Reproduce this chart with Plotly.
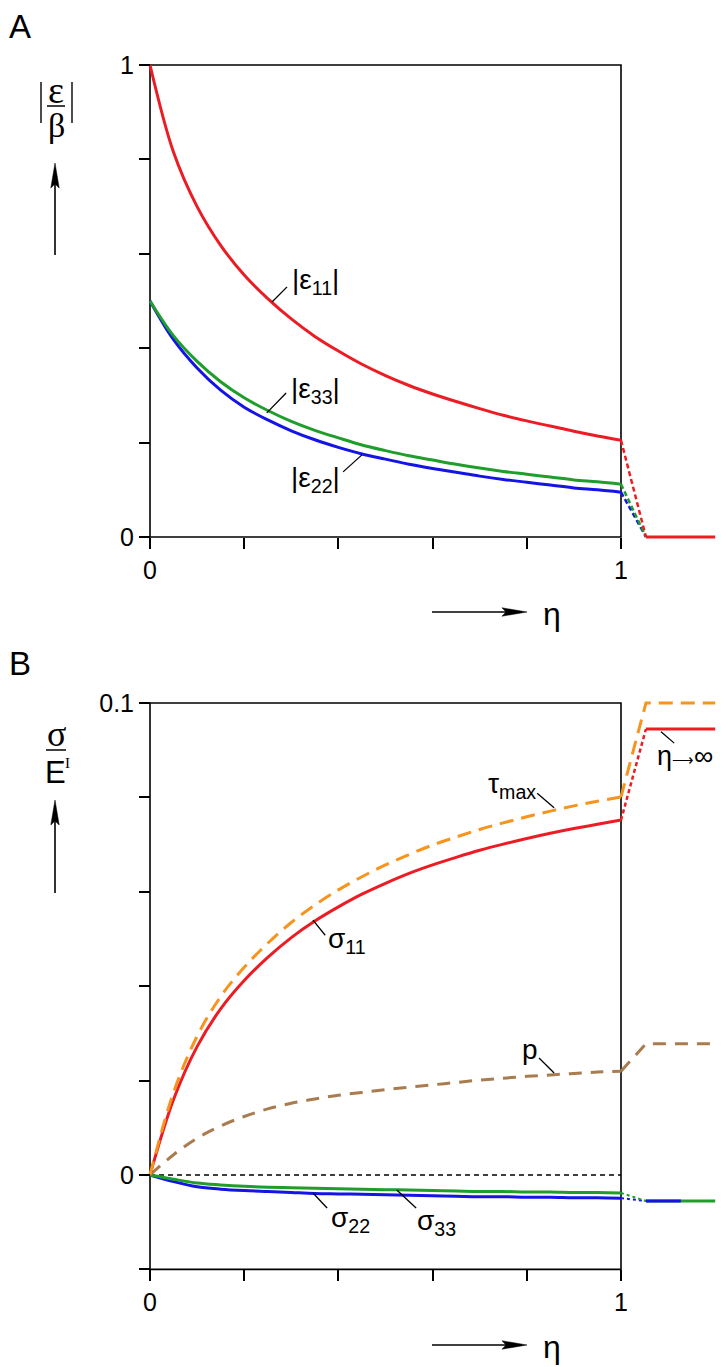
import plotly.graph_objects as go

# ---------------- data ----------------
# Panel A : strains |eps/beta| vs eta
eta_a = [0, 0.05, 0.1, 0.15, 0.2, 0.25, 0.3, 0.35, 0.4, 0.45, 0.5,
         0.55, 0.6, 0.65, 0.7, 0.75, 0.8, 0.85, 0.9, 0.95, 1.0]
eps11 = [1.0, 0.815, 0.700, 0.618, 0.555, 0.505, 0.462, 0.425, 0.394, 0.366, 0.342,
         0.321, 0.303, 0.287, 0.272, 0.258, 0.246, 0.235, 0.224, 0.214, 0.205]
eps33 = [0.5, 0.426, 0.372, 0.329, 0.295, 0.268, 0.245, 0.226, 0.210, 0.195, 0.183,
         0.172, 0.163, 0.154, 0.146, 0.139, 0.133, 0.127, 0.121, 0.117, 0.112]
eps22 = [0.5, 0.418, 0.358, 0.311, 0.275, 0.248, 0.225, 0.206, 0.190, 0.176, 0.165,
         0.154, 0.145, 0.137, 0.129, 0.122, 0.116, 0.110, 0.104, 0.100, 0.095]

# jump from eta = 1 to the eta -> infinity limit
eta_jump = [1.0, 1.053]
eta_inf = [1.053, 1.2]
eta_inf_half = [1.053, 1.127]
eps_limit = 0.0

# Panel B : stresses sigma/E^I vs eta
eta_b = [0, 0.05, 0.1, 0.15, 0.2, 0.25, 0.3, 0.35, 0.4, 0.45, 0.5,
         0.55, 0.6, 0.65, 0.7, 0.75, 0.8, 0.85, 0.9, 0.95, 1.0]
sig11 = [0, 0.0160, 0.0272, 0.0352, 0.0412, 0.0461, 0.0503, 0.0538, 0.0568, 0.0595, 0.0618,
         0.0639, 0.0657, 0.0673, 0.0688, 0.0701, 0.0713, 0.0724, 0.0734, 0.0743, 0.0752]
tau_max = [0, 0.0175, 0.0294, 0.0378, 0.0440, 0.0491, 0.0535, 0.0572, 0.0604, 0.0632, 0.0657,
           0.0679, 0.0699, 0.0716, 0.0732, 0.0746, 0.0759, 0.0771, 0.0782, 0.0792, 0.0801]
p_vals = [0, 0.0043, 0.0078, 0.0104, 0.0124, 0.0140, 0.0152, 0.0161, 0.0169, 0.0175, 0.0181,
          0.0186, 0.0191, 0.0196, 0.0201, 0.0205, 0.0209, 0.0212, 0.0215, 0.0218, 0.0220]
sig22 = [0, -0.0014, -0.0025, -0.0030, -0.0033, -0.0035, -0.0037, -0.0039, -0.0040, -0.0041, -0.0042,
         -0.0043, -0.0044, -0.0045, -0.0046, -0.0046, -0.0047, -0.0047, -0.0048, -0.0048, -0.0049]
sig33 = [0, -0.0009, -0.0017, -0.0021, -0.0024, -0.0026, -0.0027, -0.0028, -0.0029, -0.0030, -0.0031,
         -0.0032, -0.0033, -0.0034, -0.0035, -0.0035, -0.0036, -0.0036, -0.0037, -0.0037, -0.0038]

sig11_inf = 0.0945
tau_inf = 0.1
p_inf = 0.0278
sig22_inf = -0.0055
sig33_inf = -0.0055

# tick values / labels
xtick_vals = [0, 0.2, 0.4, 0.6, 0.8, 1.0]
xtick_text = ["0", "", "", "", "", "1"]
ytick_a_vals = [0, 0.2, 0.4, 0.6, 0.8, 1.0]
ytick_a_text = ["0", "", "", "", "", "1"]
ytick_b_vals = [-0.02, 0, 0.02, 0.04, 0.06, 0.08, 0.1]
ytick_b_text = ["", "0", "", "", "", "", "0.1"]

# ---------------- styling ----------------
RED = "#ec1c24"
GREEN = "#1f9e2c"
BLUE = "#1414e6"
ORANGE = "#f7941d"
BROWN = "#a97c50"
LW = 3
SANS = "Liberation Sans, Arial, sans-serif"
SERIF = "Liberation Serif, Times New Roman, serif"

W, H = 728, 1367


def PX(x):
    return x / W


def PY(y):
    return 1 - y / H


# pixel geometry of the plot frames
X0, XSCALE = 150, 471.0
XR = [-0.03, 1.22]
A_Y0, A_SCALE = 537, 472.0
A_R = [-0.04, 1.04]
B_Y0, B_SCALE = 1175, 4720.0
B_R = [-0.024, 0.104]

xdom = [PX(X0 + XR[0] * XSCALE), PX(X0 + XR[1] * XSCALE)]
ydom_a = [PY(A_Y0 - A_R[0] * A_SCALE), PY(A_Y0 - A_R[1] * A_SCALE)]
ydom_b = [PY(B_Y0 - B_R[0] * B_SCALE), PY(B_Y0 - B_R[1] * B_SCALE)]

fig = go.Figure()


def line(x, y, color, xa, ya, dash="solid", width=LW, spline=True):
    fig.add_trace(go.Scatter(
        x=x, y=y, mode="lines", xaxis=xa, yaxis=ya, showlegend=False, hoverinfo="skip",
        line=dict(color=color, width=width, dash=dash,
                  shape="spline" if spline else "linear", smoothing=1.0 if spline else 0)))


# ---- Panel A traces ----
for vals, col in [(eps22, BLUE), (eps33, GREEN), (eps11, RED)]:
    line(eta_jump, [vals[-1], eps_limit], col, "x", "y", dash="5px,3px", width=2.5, spline=False)
line(eta_a, eps22, BLUE, "x", "y")
line(eta_a, eps33, GREEN, "x", "y")
line(eta_a, eps11, RED, "x", "y")
line(eta_inf, [eps_limit, eps_limit], RED, "x", "y", spline=False)

# ---- Panel B traces ----
line(eta_b, p_vals, BROWN, "x2", "y2", dash="13px,9px")
line(eta_jump + [eta_inf[1]], [p_vals[-1], p_inf, p_inf], BROWN, "x2", "y2", dash="13px,9px", spline=False)
line(eta_jump, [sig22[-1], sig22_inf], BLUE, "x2", "y2", dash="3px,3px", width=2, spline=False)
line(eta_jump, [sig33[-1], sig33_inf], GREEN, "x2", "y2", dash="3px,3px", width=2, spline=False)
line(eta_b, sig22, BLUE, "x2", "y2")
line(eta_b, sig33, GREEN, "x2", "y2")
line(eta_inf, [sig33_inf, sig33_inf], GREEN, "x2", "y2", spline=False)
line(eta_inf_half, [sig22_inf, sig22_inf], BLUE, "x2", "y2", spline=False)
line(eta_b, sig11, RED, "x2", "y2")
line(eta_jump, [sig11[-1], sig11_inf], RED, "x2", "y2", dash="4px,3px", width=2.5, spline=False)
line(eta_inf, [sig11_inf, sig11_inf], RED, "x2", "y2", spline=False)
line(eta_b, tau_max, ORANGE, "x2", "y2", dash="14px,8px")
line(eta_jump + [eta_inf[1]], [tau_max[-1], tau_inf, tau_inf], ORANGE, "x2", "y2", dash="14px,8px", spline=False)

# ---------------- axes ----------------
tick_common = dict(ticks="outside", ticklen=11, tickwidth=1.6, tickcolor="black",
                   showgrid=False, zeroline=False, showline=False,
                   tickfont=dict(family=SANS, size=25, color="black"), fixedrange=True)

fig.update_layout(
    width=W, height=H, margin=dict(l=0, r=0, t=0, b=0),
    paper_bgcolor="white", plot_bgcolor="white",
    xaxis=dict(domain=xdom, range=XR, anchor="free", position=PY(A_Y0),
               tickmode="array", tickvals=xtick_vals, ticktext=xtick_text, **tick_common),
    yaxis=dict(domain=ydom_a, range=A_R, anchor="free", position=PX(X0),
               tickmode="array", tickvals=ytick_a_vals, ticktext=ytick_a_text, **tick_common),
    xaxis2=dict(domain=xdom, range=XR, anchor="free", position=PY(B_Y0 + 0.02 * B_SCALE),
                tickmode="array", tickvals=xtick_vals, ticktext=xtick_text, **tick_common),
    yaxis2=dict(domain=ydom_b, range=B_R, anchor="free", position=PX(X0),
                tickmode="array", tickvals=ytick_b_vals, ticktext=ytick_b_text, **tick_common),
)

shapes = []
annotations = []

# frames
shapes.append(dict(type="rect", xref="x", yref="y", x0=0, x1=1, y0=0, y1=1,
                   line=dict(color="black", width=1.6), layer="below"))
shapes.append(dict(type="rect", xref="x2", yref="y2", x0=0, x1=1, y0=-0.02, y1=0.1,
                   line=dict(color="black", width=1.6), layer="below"))
# zero line in B
shapes.append(dict(type="line", xref="x2", yref="y2", x0=0, x1=1, y0=0, y1=0,
                   line=dict(color="black", width=1.5, dash="5px,4px"), layer="below"))


def leader(xr, yr, x0, y0, x1, y1):
    shapes.append(dict(type="line", xref=xr, yref=yr, x0=x0, y0=y0, x1=x1, y1=y1,
                       line=dict(color="black", width=1.3)))


def label(xr, yr, x, y, text, size=28, family=SANS):
    annotations.append(dict(xref=xr, yref=yr, x=x, y=y, text=text, showarrow=False,
                            xanchor="center", yanchor="middle",
                            font=dict(family=family, size=size, color="black")))


# curve labels, panel A
label("x", "y", 0.352, 0.542, "|ε<sub>11</sub>|")
leader("x", "y", 0.259, 0.498, 0.291, 0.530)
label("x", "y", 0.352, 0.311, "|ε<sub>33</sub>|")
leader("x", "y", 0.248, 0.263, 0.289, 0.305)
label("x", "y", 0.352, 0.121, "|ε<sub>22</sub>|")
leader("x", "y", 0.410, 0.138, 0.450, 0.174)

# curve labels, panel B
label("x2", "y2", 0.418, 0.0496, "σ<sub>11</sub>")
leader("x2", "y2", 0.346, 0.0540, 0.372, 0.0508)
label("x2", "y2", 0.769, 0.0826, "τ<sub>max</sub>")
leader("x2", "y2", 0.822, 0.0809, 0.858, 0.0778)
label("x2", "y2", 1.136, 0.0888, "η<span style='font-size:15px'>⟶</span>∞", size=27)
leader("x2", "y2", 1.085, 0.0939, 1.113, 0.0915)
label("x2", "y2", 0.807, 0.0266, "p")
leader("x2", "y2", 0.826, 0.0248, 0.858, 0.0216)
label("x2", "y2", 0.425, -0.0095, "σ<sub>22</sub>")
leader("x2", "y2", 0.346, -0.0038, 0.376, -0.0070)
label("x2", "y2", 0.609, -0.0100, "σ<sub>33</sub>")
leader("x2", "y2", 0.524, -0.0032, 0.565, -0.0070)

# panel letters
annotations.append(dict(xref="paper", yref="paper", x=PX(20), y=PY(27), text="A", showarrow=False,
                        xanchor="center", yanchor="middle", font=dict(family=SANS, size=33, color="black")))
annotations.append(dict(xref="paper", yref="paper", x=PX(20), y=PY(663), text="B", showarrow=False,
                        xanchor="center", yanchor="middle", font=dict(family=SANS, size=33, color="black")))


def ptext(x, y, text, size, family, xanchor="center"):
    annotations.append(dict(xref="paper", yref="paper", x=PX(x), y=PY(y), text=text, showarrow=False,
                            xanchor=xanchor, yanchor="middle", font=dict(family=family, size=size, color="black")))


def pline(x0, y0, x1, y1, width=1.5):
    shapes.append(dict(type="line", xref="paper", yref="paper", x0=PX(x0), y0=PY(y0), x1=PX(x1), y1=PY(y1),
                       line=dict(color="black", width=width)))


def arrow(xt, yt, xh, yh, L=25, w=4.2, notch=4):
    dx, dy = xh - xt, yh - yt
    n = (dx * dx + dy * dy) ** 0.5
    ux, uy = dx / n, dy / n
    nx, ny = -uy, ux
    bx, by = xh - L * ux, yh - L * uy
    pline(xt, yt, bx + notch * ux, by + notch * uy, width=1.6)
    pts = [(xh, yh), (bx + w * nx, by + w * ny), (bx + notch * ux, by + notch * uy), (bx - w * nx, by - w * ny)]
    path = "M " + " L ".join(f"{PX(a):.5f},{PY(b):.5f}" for a, b in pts) + " Z"
    shapes.append(dict(type="path", xref="paper", yref="paper", path=path,
                       fillcolor="black", line=dict(color="black", width=0.5)))


# y label A : |eps / beta|
ptext(56, 90, "ε", 38, SERIF)
pline(47, 106, 65, 106, width=1.5)
ptext(56, 125, "β", 34, SERIF)
pline(41, 82, 41, 123, width=1.4)
pline(72, 82, 72, 123, width=1.4)
arrow(55, 255, 55, 163)

# x label A
arrow(432, 612, 527, 612)
ptext(552, 614, "η", 32, SANS)

# y label B : sigma / E^I
ptext(56, 734, "σ", 36, SERIF)
pline(46, 750, 66, 750, width=1.5)
ptext(55, 772, "E", 31, SANS)
ptext(67, 763, "I", 15, SERIF)
arrow(55, 893, 55, 800)

# x label B
arrow(432, 1345, 527, 1345)
ptext(552, 1347, "η", 32, SANS)

fig.update_layout(shapes=shapes, annotations=annotations)
fig.write_html("out.html", config={"displayModeBar": False},
               post_script="document.body.style.margin='0';document.body.style.overflow='hidden';")
